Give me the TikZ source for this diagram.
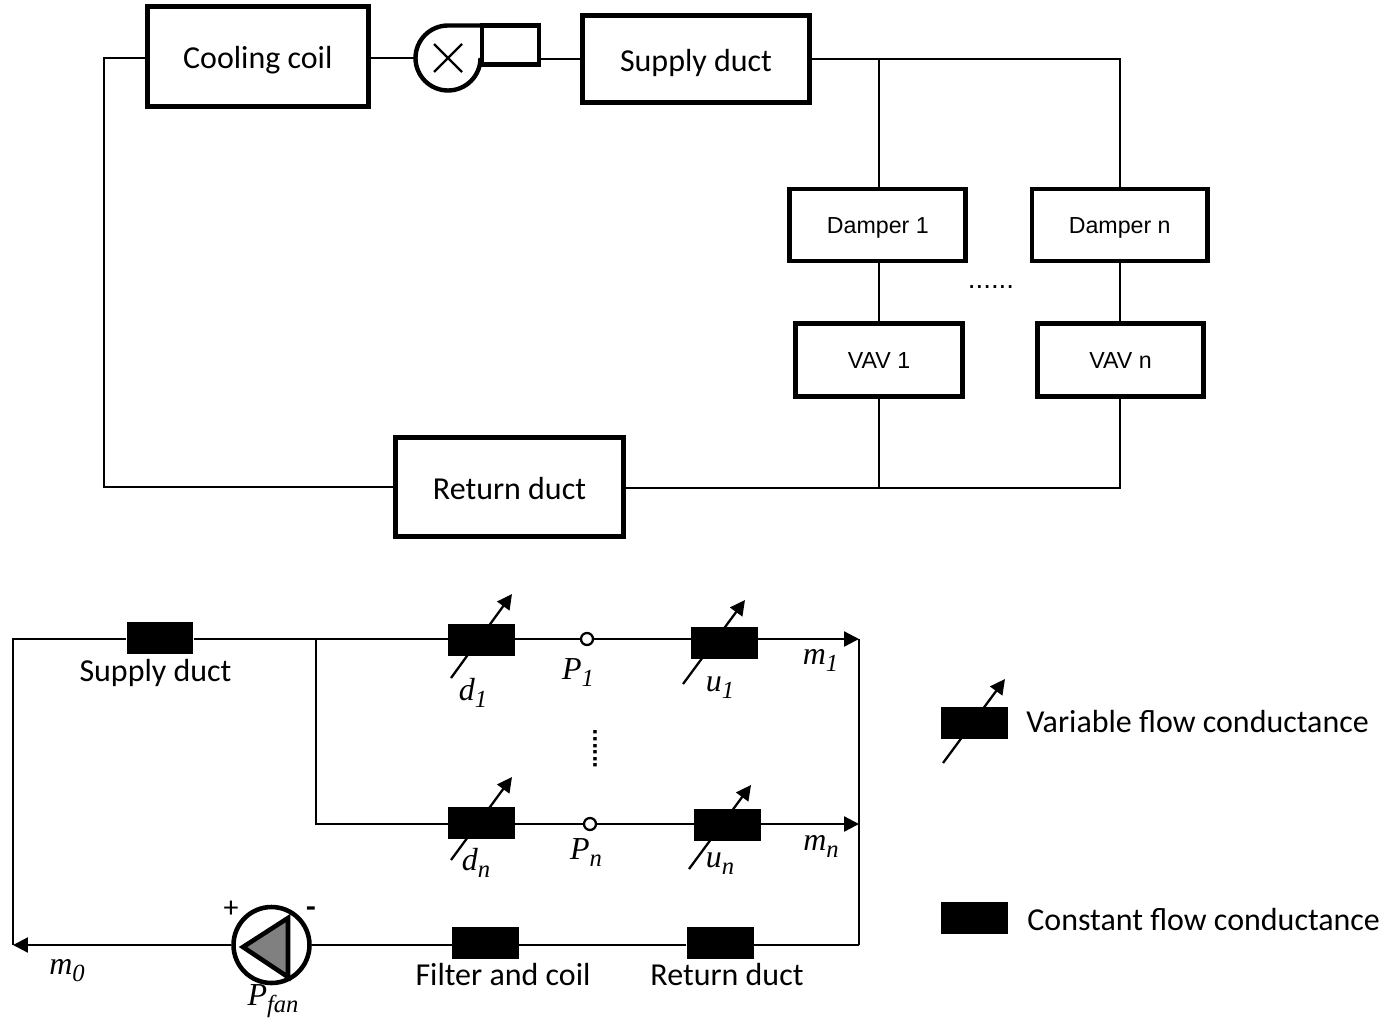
\documentclass[tikz,border=0pt]{standalone}
\usepackage{fontspec}
\setmainfont{Carlito}
\newfontfamily\boxfont{Liberation Sans}
\newfontfamily\varfont{Liberation Serif}
\usepackage{tikz}
\usetikzlibrary{arrows.meta}
\newcommand{\varlabel}[2]{{\varfont\itshape\fontsize{18.2}{18.2}\selectfont #1\lower 4pt\hbox{\fontsize{14}{14}\selectfont #2}}}
\tikzset{
wire/.style={line width=1.3pt},
unitbox/.style={draw,line width=2.8pt,inner sep=0pt,text height=14.2pt,text depth=0pt,font=\fontsize{18.2}{18.2}\selectfont},
smallbox/.style={unitbox,text height=10pt,text depth=0pt,font=\boxfont\fontsize{13.2}{13.2}\selectfont},
conductance/.style={fill=black,inner sep=0pt,minimum width=1.34cm,minimum height=0.64cm},
tuning/.style={wire,->},
tap/.style={circle,draw,fill=white,line width=1.3pt,inner sep=0pt,minimum size=0.24cm},
caption/.style={inner sep=0pt,font=\fontsize{18.2}{18.2}\selectfont}
}
\begin{document}
\begin{tikzpicture}[x=0.02cm,y=-0.02cm,>={Triangle[length=8.5pt,width=8.5pt]}]
\useasboundingbox (0,0) rectangle (1391,1017);
% air loop
\node[unitbox,minimum width=4.42cm,minimum height=2cm] (coil) at (257.8,56.5) {Cooling coil};
\node[unitbox,minimum width=4.54cm,minimum height=1.74cm] (supply) at (696,59) {Supply duct};
\node[unitbox,minimum width=4.56cm,minimum height=1.98cm] (return) at (509.5,487) {Return duct};
\node[smallbox,minimum width=3.52cm,minimum height=1.44cm] (damperone) at (877.8,225) {Damper 1};
\node[smallbox,minimum width=3.51cm,minimum height=1.44cm] (dampern) at (1119.7,225) {Damper n};
\node[smallbox,minimum width=3.34cm,minimum height=1.45cm] (vavone) at (879,360) {VAV 1};
\node[smallbox,minimum width=3.32cm,minimum height=1.45cm] (vavn) at (1120.5,360) {VAV n};
\node[inner sep=0pt,font=\boxfont\fontsize{15.8}{15.8}\selectfont] (dots) at (991,287) {......};
\node[circle,inner sep=0pt,outer sep=0pt,minimum size=1.3cm] (fan) at (448,58) {};
\node[draw,line width=2.5pt,inner sep=0pt,outer sep=0pt,minimum width=1.14cm,minimum height=0.78cm] (fanbox) at (510.5,45) {};
\draw[line width=2.5pt](fan.east) arc[start angle=0,end angle=-270,radius=0.65cm]--(fanbox.north west);
\draw[wire](fan.center)++(-14,-14)--++(28,28)(fan.center)++(14,-14)--++(-28,28);
\coordinate (topleft) at (104,58);
\coordinate (botleft) at (104,487);
\coordinate (topsplit) at (879,59);
\coordinate (topright) at (1120,59);
\coordinate (botsplit) at (879,488);
\coordinate (botright) at (1120,488);
\draw[wire](coil.west |- topleft)--(topleft)--(botleft)--(return.west);
\draw[wire](coil.east |- fan.west)--(fan.west);
\draw[wire](fanbox.east |- supply.west)--(supply.west);
\draw[wire](supply.east |- topsplit)--(topright)--(topright |- dampern.north);
\draw[wire](topsplit)--(topsplit |- damperone.north);
\draw[wire](topsplit |- damperone.south)--(topsplit |- vavone.north);
\draw[wire](topright |- dampern.south)--(topright |- vavn.north);
\draw[wire](topsplit |- vavone.south)--(botsplit);
\draw[wire](topright |- vavn.south)--(botright)--(return.east |- botright);
% flow network
\node[conductance] (ductbox) at (160,638) {};
\node[conductance] (done) at (481.5,640) {};
\node[conductance] (uone) at (724.5,643) {};
\node[conductance] (dn) at (481.5,823) {};
\node[conductance] (un) at (727.5,825) {};
\node[conductance] (filterbox) at (485.5,943) {};
\node[conductance] (returnbox) at (720,943) {};
\node[conductance] (varbox) at (974.5,723) {};
\node[conductance] (constbox) at (974.5,918) {};
\node[tap] (pone) at (587,639) {};
\node[tap] (pn) at (590,824) {};
\node[draw,circle,line width=2.6pt,inner sep=0pt,minimum size=1.52cm] (pump) at (271.5,945) {};
\coordinate (netnw) at (13,639);
\coordinate (netsw) at (13,945);
\coordinate (netne) at (859,639);
\coordinate (netse) at (859,945);
\coordinate (netsplit) at (316,639);
\coordinate (netn) at (859,824);
\draw[wire](netsw)--(netnw)--(ductbox.west |- netnw);
\draw[wire](ductbox.east |- netnw)--(done.west |- netnw);
\draw[wire](done.east |- netnw)--(pone);
\draw[wire](pone)--(pone -| uone.west);
\draw[wire,->](pone -| uone.east)--(netne);
\draw[wire](netne)--(netse);
\draw[wire](netsplit)--(netsplit |- pn)--(dn.west |- pn);
\draw[wire](dn.east |- pn)--(pn);
\draw[wire](pn)--(pn -| un.west);
\draw[wire,->](pn -| un.east)--(netn);
\draw[wire](netse)--(returnbox.east |- netse);
\draw[wire](returnbox.west |- netse)--(filterbox.east |- netse);
\draw[wire](filterbox.west |- netse)--(pump.east);
\draw[wire,->](pump.west)--(netsw);
\draw[line width=2.6pt,fill=gray,line join=miter](243,947)--(288,918)--(288,977)--cycle;
\draw[tuning](451,678)--(512,594);
\draw[tuning](683,684)--(745,600);
\draw[tuning](451,860)--(512,777);
\draw[tuning](689,869)--(751,785);
\draw[tuning](943,763)--(1005,679);
% labels
\node[caption] (ductlabel) at (155.5,673) {Supply duct};
\node[caption] (filterlabel) at (503,974) {Filter and coil};
\node[caption] (returnlabel) at (727,974) {Return duct};
\node[caption,anchor=west] (varlabel) at (1026,722) {Variable flow conductance};
\node[caption,anchor=west] (constlabel) at (1027,919) {Constant flow conductance};
\node[inner sep=0pt] (donelabel) at (473,693) {\varlabel{d}{1}};
\node[inner sep=0pt] (uonelabel) at (720,688) {\varlabel{u}{1}};
\node[inner sep=0pt] (ponelabel) at (578,673) {\varlabel{P}{1}};
\node[inner sep=0pt] (monelabel) at (820.5,660) {\varlabel{m}{1}};
\node[inner sep=0pt] (dnlabel) at (476,863) {\varlabel{d}{n}};
\node[inner sep=0pt] (unlabel) at (720,864) {\varlabel{u}{n}};
\node[inner sep=0pt] (pnlabel) at (586,853) {\varlabel{P}{n}};
\node[inner sep=0pt] (mnlabel) at (821,846) {\varlabel{m}{n}};
\node[inner sep=0pt] (mzerolabel) at (67,971) {\varlabel{m}{0}};
\node[inner sep=0pt] (pumplabel) at (273,1001) {\varlabel{P}{fan}};
\node[inner sep=0pt,font=\fontsize{17}{17}\selectfont] (plus) at (231,909) {+};
\node[inner sep=0pt,font=\bfseries\fontsize{18}{18}\selectfont] (minus) at (311,912) {-};
\node[inner sep=0pt,rotate=90,font=\boxfont\bfseries\fontsize{13.6}{13.6}\selectfont] (vdots) at (595,749) {......};
\end{tikzpicture}
\end{document}
